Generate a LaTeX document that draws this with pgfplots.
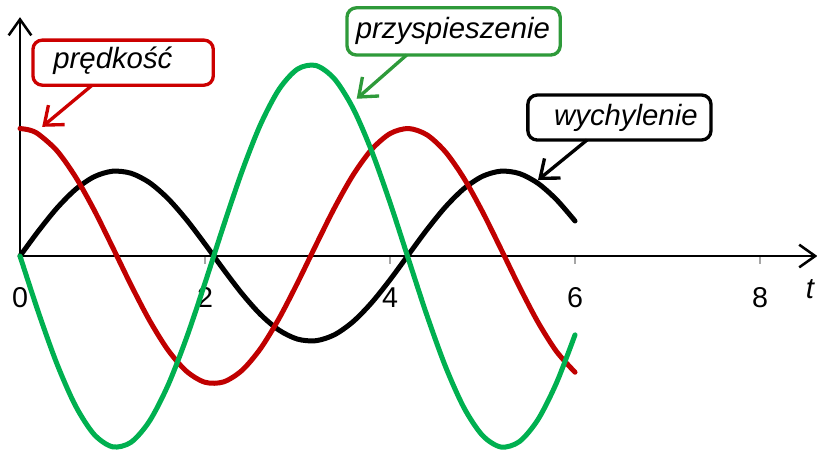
\documentclass[border=0pt]{standalone}
\usepackage{pgfplots}
\pgfplotsset{compat=1.18}
\usepackage{fontspec}
\setmainfont{Liberation Sans}
\usetikzlibrary{arrows.meta}
\definecolor{cred}{HTML}{C00000}
\definecolor{cgreen}{HTML}{00B050}
\definecolor{bgreen}{HTML}{2E9A3A}
\definecolor{bred}{HTML}{CC0000}
\begin{document}
\begin{tikzpicture}
\begin{axis}[scale only axis, width=612.75pt, height=340.5pt,
  xmin=-0.2162, xmax=8.616, ymin=-2.329, ymax=3.012,
  axis lines=none, clip=false]
% axes
\draw[gray!70, line width=1.2pt] (axis cs:2,0) -- (axis cs:2,-0.09)
  (axis cs:4,0) -- (axis cs:4,-0.09) (axis cs:6,0) -- (axis cs:6,-0.09)
  (axis cs:8,0) -- (axis cs:8,-0.09);
\draw[black, line width=1.9pt, -{Straight Barb[length=12pt,width=17pt,line width=1.9pt]}] (axis cs:0,0) -- (axis cs:8.62,0);
\draw[black, line width=1.9pt, -{Straight Barb[length=12pt,width=17pt,line width=1.9pt]}] (axis cs:0,0) -- (axis cs:0,2.81);
\node[font=\fontsize{21.5}{25}\selectfont] at (axis cs:0,-0.49) {0};
\node[font=\fontsize{21.5}{25}\selectfont] at (axis cs:2,-0.49) {2};
\node[font=\fontsize{21.5}{25}\selectfont] at (axis cs:4,-0.49) {4};
\node[font=\fontsize{21.5}{25}\selectfont] at (axis cs:6,-0.49) {6};
\node[font=\fontsize{21.5}{25}\selectfont] at (axis cs:8,-0.49) {8};
\node[font=\fontsize{22}{25}\selectfont\itshape] at (axis cs:8.54,-0.39) {t};
% wychylenie
\addplot[black, line width=3.75pt, smooth, line cap=round] coordinates {
(0,0) (0.2,0.2955) (0.4,0.5646) (0.6,0.7833) (0.8,0.9320) (1.0,0.9975)
(1.2,0.9738) (1.4,0.8632) (1.6,0.6755) (1.8,0.4274) (2.0,0.1411)
(2.2,-0.1577) (2.4,-0.4425) (2.6,-0.6878) (2.8,-0.8716) (3.0,-0.9775)
(3.2,-0.9962) (3.4,-0.9258) (3.6,-0.7728) (3.8,-0.5507) (4.0,-0.2794)
(4.2,0.0168) (4.4,0.3115) (4.6,0.5784) (4.8,0.7937) (5.0,0.9380)
(5.2,0.9985) (5.4,0.9699) (5.6,0.8546) (5.8,0.6630) (6.0,0.4121)};
% predkosc
\addplot[cred, line width=3.75pt, smooth, line cap=round] coordinates {
(0,1.5) (0.1,1.483) (0.2,1.433) (0.4,1.238) (0.6,0.932) (0.8,0.544) (1.0,0.106)
(1.2,-0.341) (1.4,-0.757) (1.6,-1.106) (1.8,-1.356) (2.0,-1.485)
(2.2,-1.481) (2.4,-1.345) (2.6,-1.089) (2.8,-0.735) (3.0,-0.316)
(3.2,0.131) (3.4,0.567) (3.6,0.952) (3.8,1.252) (4.0,1.440)
(4.2,1.500) (4.4,1.425) (4.6,1.224) (4.8,0.913) (5.0,0.520)
(5.2,0.081) (5.4,-0.365) (5.6,-0.779) (5.8,-1.123) (6.0,-1.367)};
% przyspieszenie
\addplot[cgreen, line width=3.75pt, smooth, line cap=round] coordinates {
(0,0) (0.2,-0.665) (0.4,-1.270) (0.6,-1.762) (0.8,-2.097) (1.0,-2.244)
(1.2,-2.191) (1.4,-1.942) (1.6,-1.520) (1.8,-0.962) (2.0,-0.317)
(2.2,0.355) (2.4,0.996) (2.6,1.548) (2.8,1.961) (3.0,2.199)
(3.2,2.241) (3.4,2.083) (3.6,1.739) (3.8,1.239) (4.0,0.629)
(4.2,-0.038) (4.4,-0.701) (4.6,-1.301) (4.8,-1.786) (5.0,-2.111)
(5.2,-2.247) (5.4,-2.182) (5.6,-1.923) (5.8,-1.492) (6.0,-0.927)};
% callouts
\draw[bred, line width=2.5pt, rounded corners=7pt, fill=white] (axis cs:0.14,2.01) rectangle (axis cs:2.09,2.54);
\node[font=\fontsize{22}{25}\selectfont\itshape, anchor=west] at (axis cs:0.31,2.3) {prędkość};
\draw[bred, line width=2.5pt, -{Straight Barb[length=12pt,width=19pt,line width=2.5pt]}] (axis cs:0.78,2.01) -- (axis cs:0.24,1.52);
\draw[bgreen, line width=2.5pt, rounded corners=7pt, fill=white] (axis cs:3.535,2.365) rectangle (axis cs:5.84,2.92);
\node[font=\fontsize{22}{25}\selectfont\itshape] at (axis cs:4.68,2.65) {przyspieszenie};
\draw[bgreen, line width=2.5pt, -{Straight Barb[length=12pt,width=19pt,line width=2.5pt]}] (axis cs:4.18,2.365) -- (axis cs:3.64,1.85);
\draw[black, line width=2.5pt, rounded corners=7pt, fill=white] (axis cs:5.49,1.365) rectangle (axis cs:7.47,1.894);
\node[font=\fontsize{22}{25}\selectfont\itshape] at (axis cs:6.55,1.63) {wychylenie};
\draw[black, line width=2.5pt, -{Straight Barb[length=12pt,width=19pt,line width=2.5pt]}] (axis cs:6.13,1.365) -- (axis cs:5.6,0.894);
\end{axis}
\pgfresetboundingbox
\path (current axis.south west) rectangle (current axis.north east);
\end{tikzpicture}
\end{document}
